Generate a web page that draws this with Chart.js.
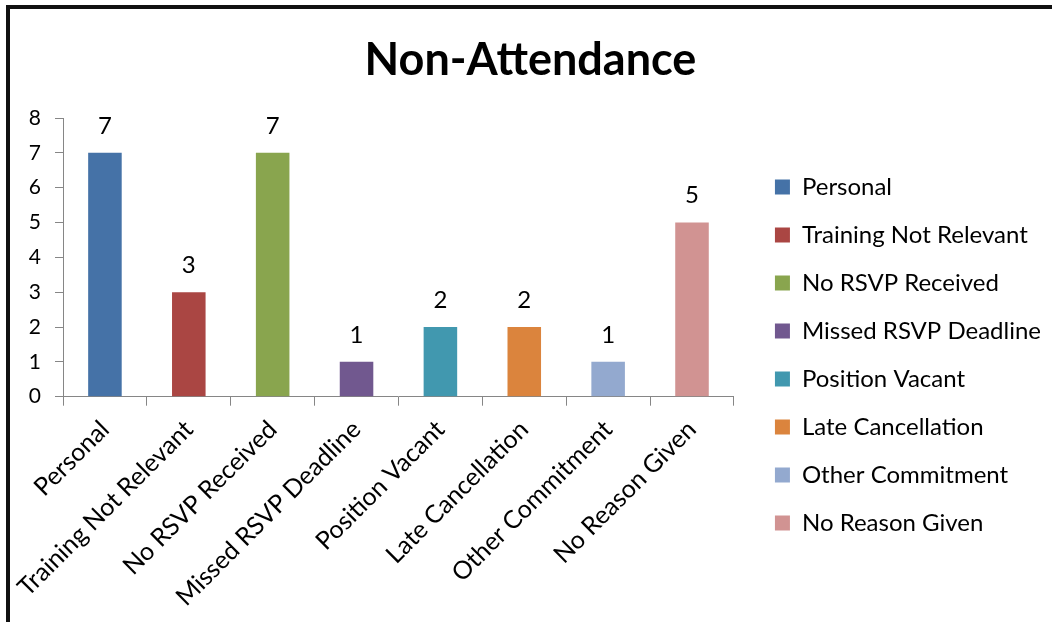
<!DOCTYPE html>
<html>
<head>
<meta charset="utf-8">
<script src="https://cdn.jsdelivr.net/npm/chart.js@4.4.0/dist/chart.umd.min.js"></script>
<style>
    body { margin: 0; background: #fff; overflow: hidden; }
    #frame {
        position: absolute;
        left: 6px;
        top: 5px;
        width: 1046px;
        height: 617px;
        border-left: 4px solid #111;
        border-top: 4px solid #111;
    }
</style>
</head>
<body>
<div id="frame">
    <canvas id="barChart" width="1042" height="613"></canvas>
</div>
<script>
const categories = ['Personal', 'Training Not Relevant', 'No RSVP Received', 'Missed RSVP Deadline',
    'Position Vacant', 'Late Cancellation', 'Other Commitment', 'No Reason Given'];
const counts = [7, 3, 7, 1, 2, 2, 1, 5];
const barColours = ['#4572A7', '#AA4643', '#89A54E', '#71588F', '#4198AF', '#DB843D', '#93A9CF', '#D19392'];
const yTicks = [0, 1, 2, 3, 4, 5, 6, 7, 8];

const fontFamily = 'Lato, "Open Sans", sans-serif';
const axisGrey = '#868686';

// draws the number above each bar
const valueLabels = {
    id: 'valueLabels',
    afterDatasetsDraw(chart) {
        const ctx = chart.ctx;
        const meta = chart.getDatasetMeta(0);
        ctx.save();
        ctx.font = '24px ' + fontFamily;
        ctx.fillStyle = '#000';
        ctx.textAlign = 'center';
        ctx.textBaseline = 'middle';
        meta.data.forEach((bar, i) => {
            ctx.fillText(String(counts[i]), bar.x, bar.y - 27);
        });
        ctx.restore();
    }
};

const ctx = document.getElementById('barChart').getContext('2d');
const myBarChart = new Chart(ctx, {
    type: 'bar',
    data: {
        labels: categories,
        datasets: [{
            data: counts,
            backgroundColor: barColours,
            categoryPercentage: 0.8,
            barPercentage: 0.5,
        }],
    },
    options: {
        responsive: false,
        animation: false,
        layout: { padding: { left: 0, right: 1, top: 0, bottom: 1 } },
        scales: {
            x: {
                grid: { drawOnChartArea: false, drawTicks: true, tickLength: 9, color: axisGrey, offset: true },
                border: { display: true, color: axisGrey },
                ticks: {
                    minRotation: 45,
                    maxRotation: 45,
                    padding: 9,
                    color: '#000',
                    font: { family: fontFamily, size: 25 },
                },
            },
            y: {
                min: 0,
                max: 8,
                afterBuildTicks(scale) {
                    scale.ticks = yTicks.map(v => ({ value: v }));
                },
                afterFit(scale) {
                    scale.width = 53;
                },
                grid: { drawOnChartArea: false, drawTicks: true, tickLength: 8, color: axisGrey },
                border: { display: true, color: axisGrey },
                ticks: {
                    padding: 14,
                    color: '#000',
                    font: { family: fontFamily, size: 21 },
                },
            },
            gap: {
                type: 'linear',
                position: 'right',
                display: true,
                grid: { display: false },
                border: { display: false },
                ticks: { display: false },
                afterFit(scale) {
                    scale.width = 17;
                },
            },
        },
        plugins: {
            title: {
                display: true,
                text: 'Non-Attendance',
                color: '#000',
                font: { family: fontFamily, size: 45, weight: 'bold' },
                padding: { top: 24, bottom: 31 },
            },
            legend: {
                position: 'right',
                maxWidth: 320,
                title: {
                    display: true,
                    text: ' ',
                    font: { family: fontFamily, size: 20 },
                    padding: { top: 56, bottom: 0 },
                },
                labels: {
                    color: '#000',
                    font: { family: fontFamily, size: 24 },
                    boxWidth: 15,
                    boxHeight: 15,
                    padding: 24,
                    generateLabels() {
                        return categories.map((name, i) => ({
                            text: name,
                            fillStyle: barColours[i],
                            strokeStyle: barColours[i],
                            fontColor: '#000',
                            lineWidth: 0,
                            hidden: false,
                            index: i,
                        }));
                    },
                },
            },
            tooltip: { enabled: false },
        },
    },
    plugins: [valueLabels],
});
</script>
</body>
</html>
